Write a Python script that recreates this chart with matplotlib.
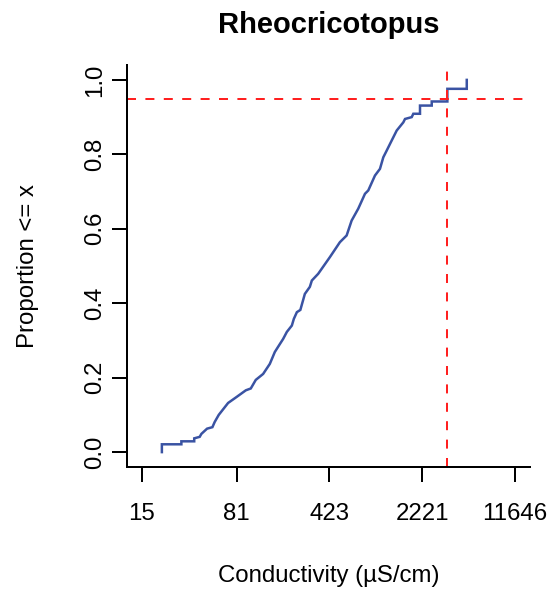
import matplotlib
matplotlib.use("Agg")
import matplotlib.pyplot as plt
from matplotlib.ticker import FixedLocator, NullLocator

# ECDF path (conductivity in uS/cm, cumulative proportion)
conductivity = [21.4, 21.4, 30.3, 30.3, 38.1, 38.1, 42.0, 43.3, 47.9, 52.7,
                54.9, 59.0, 69.7, 81.0, 95.6, 104.5, 114.2, 130.2, 146.7, 160.4,
                172.3, 186.0, 198.8, 217.3, 225.2, 237.7, 252.9, 274.0, 299.6,
                310.4, 347.5, 428.5, 511.9, 577.2, 631.0, 710.1, 800.6, 849.2,
                956.7, 1046, 1110, 1179, 1251, 1410, 1587, 1635, 1843, 1896,
                2136, 2136, 2633, 2633, 3480, 3480, 4918, 4918]
proportion = [0.0, 0.021, 0.021, 0.029, 0.029, 0.037, 0.041, 0.049, 0.063, 0.067,
              0.081, 0.100, 0.132, 0.148, 0.166, 0.171, 0.194, 0.210, 0.237, 0.269,
              0.286, 0.304, 0.323, 0.340, 0.358, 0.376, 0.382, 0.425, 0.444,
              0.461, 0.479, 0.524, 0.564, 0.582, 0.622, 0.654, 0.694, 0.703,
              0.743, 0.761, 0.792, 0.810, 0.828, 0.864, 0.886, 0.895, 0.900, 0.909,
              0.909, 0.931, 0.931, 0.942, 0.942, 0.976, 0.976, 1.0]

x_ticks = [15, 81, 423, 2221, 11646]
y_ticks = [0.0, 0.2, 0.4, 0.6, 0.8, 1.0]
threshold_x = 3480
threshold_y = 0.95

plt.rcParams["font.family"] = ["Liberation Sans", "DejaVu Sans"]

fig = plt.figure(figsize=(5.54, 5.91), dpi=100)
ax = fig.add_axes([127 / 554, 124 / 591, 403 / 554, 402 / 591])

ax.plot(conductivity, proportion, color="#3A53A3", linewidth=1.8,
        solid_joinstyle="miter")
ax.axhline(threshold_y, color="#FF2020", linewidth=1.44, linestyle=(0, (4.5, 4.7)))
ax.axvline(threshold_x, color="#FF2020", linewidth=1.44, linestyle=(0, (4.5, 4.7)))

ax.set_xscale("log")
ax.set_xlim(11.49, 15190)
ax.set_ylim(-0.04, 1.04)

ax.xaxis.set_major_locator(FixedLocator(x_ticks))
ax.xaxis.set_minor_locator(NullLocator())
ax.set_xticklabels([str(t) for t in x_ticks])
ax.set_yticks(y_ticks)
ax.set_yticklabels([f"{t:.1f}" for t in y_ticks], rotation=90, va="center")

for side in ("top", "right"):
    ax.spines[side].set_visible(False)
for side in ("left", "bottom"):
    ax.spines[side].set_linewidth(1.44)

ax.tick_params(axis="both", direction="out", length=10.8, width=1.44,
               labelsize=17.3, colors="black")
ax.tick_params(axis="x", pad=15)
ax.tick_params(axis="y", pad=4)

fig.text(328.5 / 554, 1 - 33 / 591, "Rheocricotopus", ha="center", va="baseline",
         fontsize=21, fontweight="bold")
fig.text(328.5 / 554, 1 - 582 / 591, "Conductivity (µS/cm)", ha="center",
         va="baseline", fontsize=17.3)
fig.text(34 / 554, 1 - 266 / 591, "Proportion <= x", ha="center", va="baseline",
         rotation=90, rotation_mode="anchor", fontsize=17.3)

fig.savefig("out.png", dpi=100)
